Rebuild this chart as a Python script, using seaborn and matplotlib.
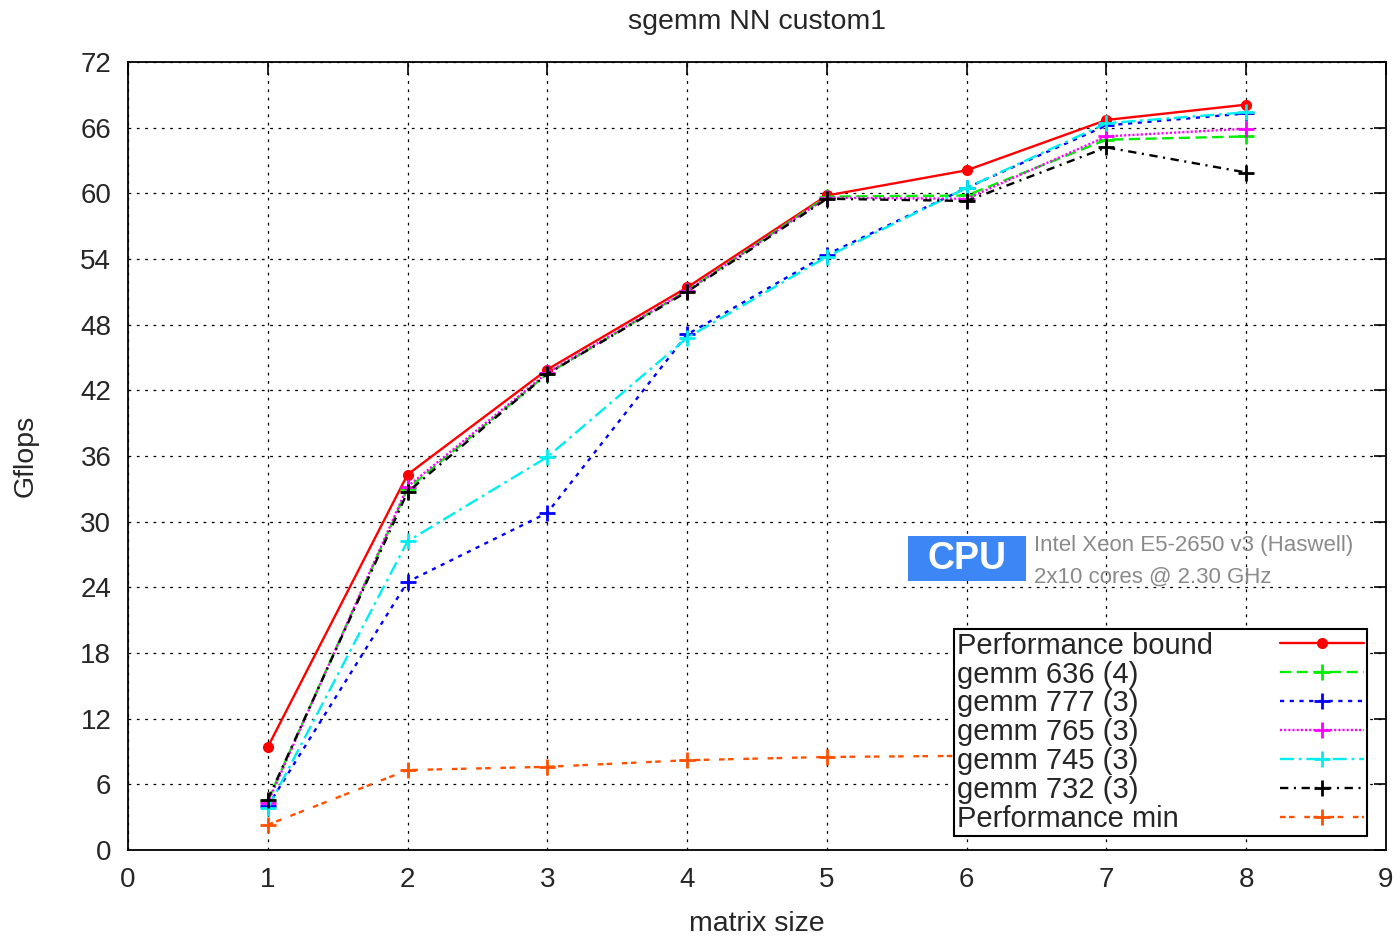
import matplotlib
matplotlib.use("Agg")
import matplotlib.pyplot as plt
import seaborn as sns
import numpy as np
from matplotlib.patches import Rectangle

sns.set_style("white")
plt.rcParams['font.family'] = ['Liberation Sans', 'DejaVu Sans']
plt.rcParams['lines.scale_dashes'] = False

matrix_size = [1, 2, 3, 4, 5, 6, 7, 8]
perf_bound = [9.4, 34.3, 43.9, 51.4, 59.8, 62.1, 66.7, 68.1]
gemm_636 = [4.5, 33.0, 43.5, 51.1, 59.7, 59.8, 64.9, 65.2]
gemm_777 = [4.0, 24.5, 30.8, 47.1, 54.4, 60.5, 66.2, 67.3]
gemm_765 = [4.3, 33.2, 43.6, 51.1, 59.6, 59.5, 65.2, 65.9]
gemm_745 = [3.8, 28.2, 35.9, 46.8, 54.2, 60.5, 66.4, 67.4]
gemm_732 = [4.6, 32.7, 43.5, 51.0, 59.5, 59.3, 64.2, 61.9]
perf_min = [2.3, 7.3, 7.6, 8.2, 8.5, 8.6, 8.9, 8.7]

series = [
    ("Performance bound", perf_bound, "#ff0000", None, "o"),
    ("gemm 636 (4)", gemm_636, "#00ee00", (8, 4), "+"),
    ("gemm 777 (3)", gemm_777, "#0000ff", (3, 4), "+"),
    ("gemm 765 (3)", gemm_765, "#ff00ff", (1.5, 1.5), "+"),
    ("gemm 745 (3)", gemm_745, "#00eeee", (10, 3.5, 2, 3.5), "+"),
    ("gemm 732 (3)", gemm_732, "#000000", (6, 4, 1.5, 4), "+"),
    ("Performance min", perf_min, "#ff5000", (4, 2.5, 4, 7), "+"),
]

fig = plt.figure(figsize=(14, 9.36), dpi=100)
ax = fig.add_axes([0.0914, 0.0919, 0.8986, 0.8419])

for label, vals, color, dash, mk in series:
    n_before = len(ax.lines)
    sns.lineplot(x=matrix_size, y=vals, ax=ax, color=color, label=label,
                 marker=mk, markersize=7 if mk == "o" else 11,
                 markeredgewidth=1 if mk == "o" else 2, linewidth=1.7,
                 markeredgecolor=color, zorder=5)
    ln = ax.lines[n_before]
    if dash is not None:
        ln.set_dashes(dash)

ax.set_xlim(0, 9)
ax.set_ylim(0, 72)
ax.set_xticks(range(0, 10))
ax.set_yticks(range(0, 73, 6))
ax.tick_params(axis='both', which='major', direction='in', length=9, width=1.2,
               top=True, right=True, labelsize=20, pad=12, color='black')
ax.grid(True, color='black', linestyle=(0, (2, 4)), linewidth=0.9)
for s in ax.spines.values():
    s.set_color('black')
    s.set_linewidth(1.3)
ax.set_axisbelow(True)

ax.set_title("sgemm NN custom1", fontsize=20.5, pad=24)
ax.set_xlabel("matrix size", fontsize=20.5, labelpad=13)
ax.set_ylabel("Gflops", fontsize=20.5, labelpad=30)

# CPU annotation
ax.add_patch(Rectangle((0.620, 0.341), 0.094, 0.057, transform=ax.transAxes,
                       facecolor="#3d86f5", edgecolor="none", zorder=3))
ax.text(0.667, 0.369, "CPU", transform=ax.transAxes, color="white",
        fontsize=27, fontweight="bold", ha="center", va="center", zorder=4)
ax.text(0.720, 0.387, "Intel Xeon E5-2650 v3 (Haswell)", transform=ax.transAxes,
        color="#8a8a8a", fontsize=16, ha="left", va="center", zorder=4)
ax.text(0.720, 0.346, "2x10 cores @ 2.30 GHz", transform=ax.transAxes,
        color="#8a8a8a", fontsize=16, ha="left", va="center", zorder=4)

leg = ax.legend(loc="lower right", bbox_to_anchor=(0.985, 0.018), fontsize=21,
                markerfirst=False, handlelength=2.9, handletextpad=2.3,
                labelspacing=0.03, borderpad=0.1, borderaxespad=0,
                frameon=True, fancybox=False, framealpha=1)
leg.get_frame().set_edgecolor("black")
leg.get_frame().set_linewidth(1.5)
leg.set_zorder(10)

# left-align legend labels while keeping line samples at the right
fig.canvas.draw()
renderer = fig.canvas.get_renderer()
widths = [t.get_window_extent(renderer).width for t in leg.get_texts()]
maxw = max(widths)
for col in leg._legend_handle_box.get_children():
    for item, w in zip(col.get_children(), widths):
        item.sep = item.sep + (maxw - w) * 72.0 / fig.dpi

fig.savefig("out.png", dpi=100)
